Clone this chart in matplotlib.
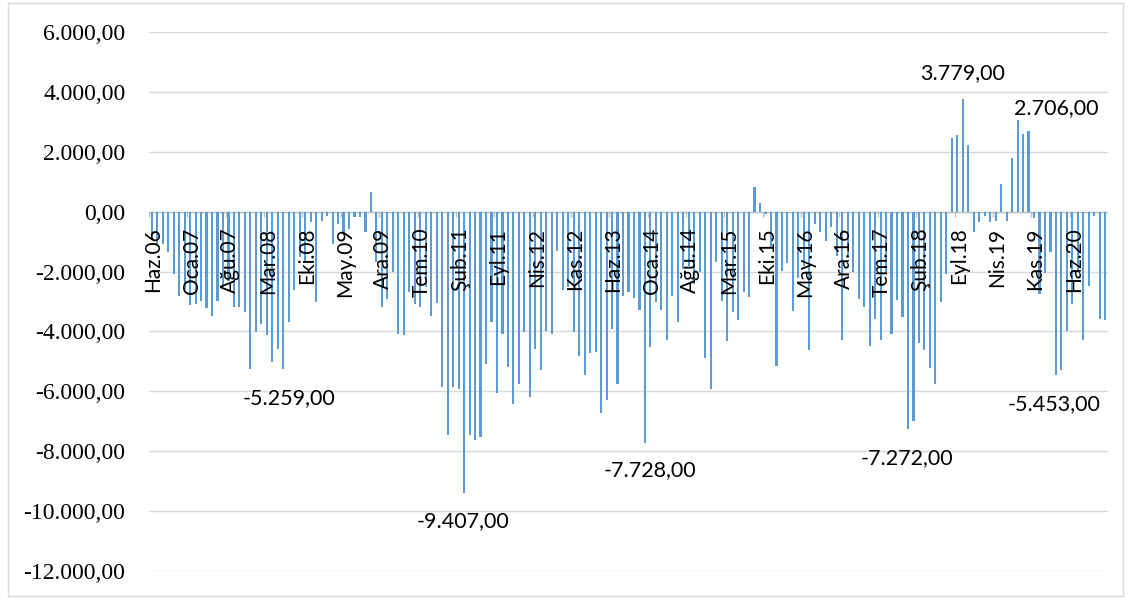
import matplotlib
matplotlib.use("Agg")
import matplotlib.pyplot as plt
from matplotlib.patches import Rectangle
from matplotlib.ticker import FuncFormatter, FixedLocator

plt.rcParams["font.family"] = ["Liberation Serif", "DejaVu Serif"]

# Monthly balance, June 2006 - December 2020
start_year, start_month = 2006, 6
month_names = ["Oca", "Şub", "Mar", "Nis", "May", "Haz",
               "Tem", "Ağu", "Eyl", "Eki", "Kas", "Ara"]

values = [
    -900, -1100, -1080, -1360, -2080, -2800, -2600, -3130, -3080, -2990,
    -3210, -3500, -2970, -2500, -2300, -3200, -3190, -3360, -5240, -4020,
    -3740, -4130, -5020, -4580, -5259, -3690, -2630, -1500, -1700, -360,
    -3020, -300, -130, -1080, -400, -700, -580, -190, -190, -670,
    670, -1690, -3190, -2910, -2020, -4080, -4130, -2690, -3080, -3190,
    -2500, -3470, -3060, -5860, -7470, -5860, -5910, -9407, -7470, -7610,
    -7540, -5080, -3690, -6060, -4080, -5190, -6430, -5740, -4020, -6190,
    -4580, -5300, -3970, -4100, -1300, -2610, -2500, -4020, -4820, -5470,
    -4720, -4690, -6720, -6280, -3910, -5740, -2800, -2670, -2880, -3300,
    -7728, -4520, -3000, -3300, -4280, -2800, -3690, -1910, -1800, -2400,
    -2020, -4890, -5910, -1690, -2970, -4320, -3360, -3610, -2690, -2860,
    830, 290, -80, -1200, -5170, -1970, -1720, -3330, -2200, -1800,
    -4630, -410, -690, -990, -520, -1470, -4300, -1500, -2020, -2910,
    -3170, -4470, -3580, -4300, -2000, -4100, -2940, -3530, -7272, -6990,
    -4380, -4630, -5220, -5740, -3000, -2080, 2460, 2570, 3779, 2230,
    -690, -330, -130, -360, -300, 920, -300, 1780, 3070, 2590,
    2706, -200, -2740, -2040, -1360, -5453, -5300, -4000, -3080, -2000,
    -4270, -2490, -160, -3580, -3630,
]

# Category labels ("Haz.06", "Tem.06", ...)
categories = []
for k in range(len(values)):
    m = start_month - 1 + k
    categories.append(f"{month_names[m % 12]}.{(start_year + m // 12) % 100:02d}")

label_step = 7
y_ticks = [-12000, -10000, -8000, -6000, -4000, -2000, 0, 2000, 4000, 6000]

# Annotated extremes: (index, x offset px, y offset px)
annotated = [(24, 6, -29), (57, -1, -28), (90, 5, -27),
             (138, -1, -29), (165, -2, -29), (148, 0, 25), (160, 28, 23)]


def tr_format(v, decimals=2):
    s = f"{v:,.{decimals}f}"
    return s.replace(",", "X").replace(".", ",").replace("X", ".")


W, H, DPI = 1131, 600, 100
fig = plt.figure(figsize=(W / DPI, H / DPI), dpi=DPI)
fig.patch.set_facecolor("white")
ax = fig.add_axes([149 / W, 1 - 571 / H, (1108 - 149) / W, (571 - 32) / H])

x = list(range(len(values)))
ax.bar(x, values, width=0.38, color="#5B9BD5", zorder=3, linewidth=0)

ax.set_xlim(-0.5, len(values) - 0.5)
ax.set_ylim(-12000, 6000)
ax.yaxis.set_major_locator(FixedLocator(y_ticks))
ax.yaxis.set_major_formatter(FuncFormatter(lambda v, p: tr_format(v)))
ax.grid(axis="y", color="#d9d9d9", linewidth=1.0, zorder=0)
ax.tick_params(axis="y", length=0, pad=17, labelsize=17, labelcolor="black")
ax.set_xticks([])
for s in ax.spines.values():
    s.set_visible(False)

# Category axis along zero, labels every seventh month
ax.axhline(0, color="#bfbfbf", linewidth=1.0, zorder=2)
for k in range(0, len(values), label_step):
    ax.vlines(k - 0.5, -180, 0, color="#bfbfbf", linewidth=1.0, zorder=2)
    ax.annotate(categories[k], xy=(k, 0), xytext=(1.5, -16),
                textcoords="offset pixels", rotation=90,
                ha="center", va="top", fontsize=15,
                fontfamily="Lato", color="black", zorder=5)

for idx, dx, dy in annotated:
    v = values[idx]
    ax.annotate(tr_format(v), xy=(idx, v), xytext=(dx, dy),
                textcoords="offset pixels", ha="center", va="center",
                fontsize=15.5, fontfamily="Lato", color="black", zorder=5)

fig.add_artist(Rectangle((8 / W, 1 - 596 / H), (1123 - 8) / W, (596 - 3) / H,
                         transform=fig.transFigure, fill=False,
                         edgecolor="#d9d9d9", linewidth=1.0))

fig.savefig("out.png", dpi=DPI, facecolor="white")
